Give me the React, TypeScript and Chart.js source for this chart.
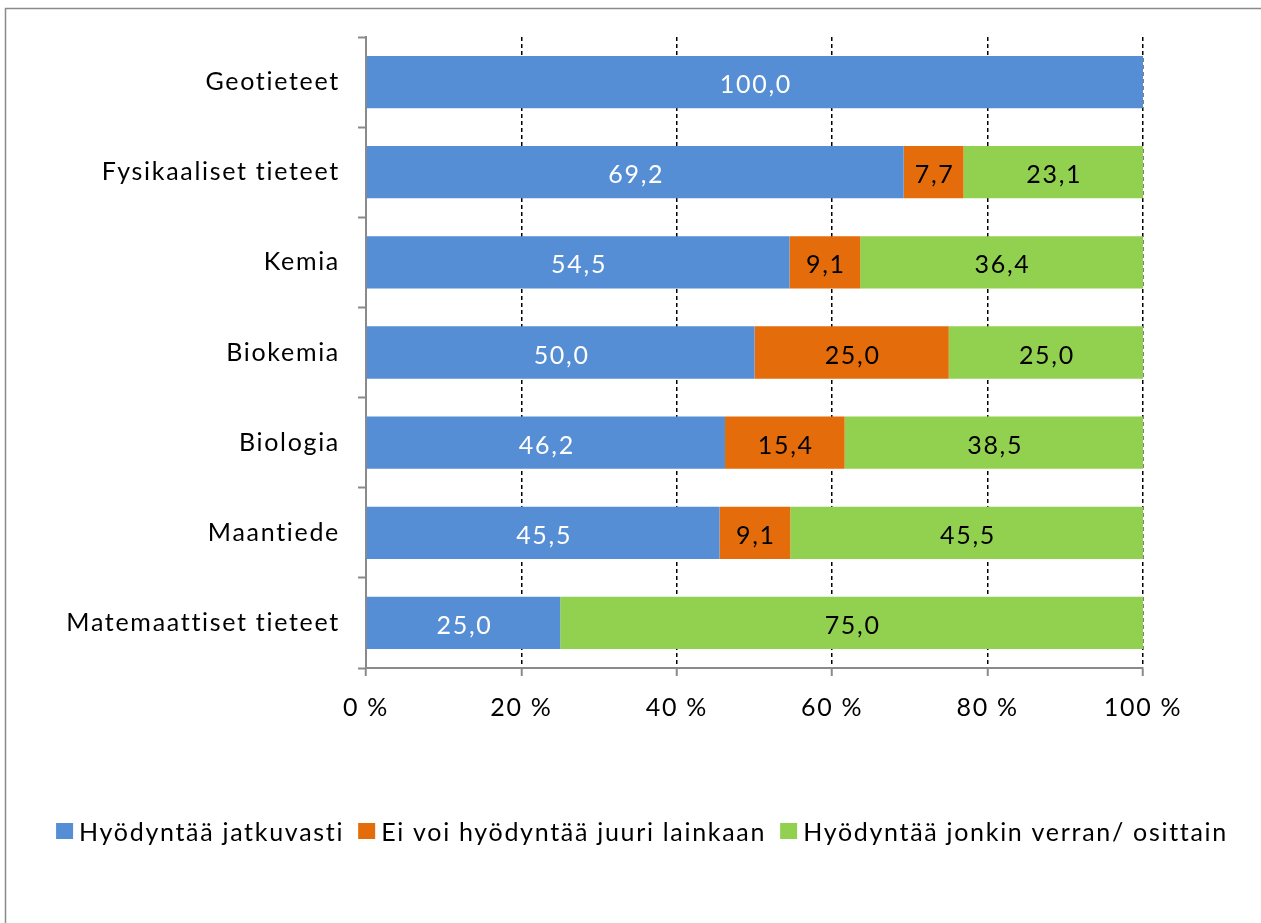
import React, { useEffect, useRef } from "react";
import { Chart, registerables } from "chart.js";

Chart.register(...registerables);

const categories = [
  "Geotieteet",
  "Fysikaaliset tieteet",
  "Kemia",
  "Biokemia",
  "Biologia",
  "Maantiede",
  "Matemaattiset tieteet",
];
const seriesNames = [
  "Hyödyntää jatkuvasti",
  "Ei voi hyödyntää juuri lainkaan",
  "Hyödyntää jonkin verran/ osittain",
];
const jatkuvasti = [100.0, 69.2, 54.5, 50.0, 46.2, 45.5, 25.0];
const eiLainkaan = [0, 7.7, 9.1, 25.0, 15.4, 9.1, 0];
const osittain = [0, 23.1, 36.4, 25.0, 38.5, 45.5, 75.0];
const seriesColors = ["#558ED5", "#E46C0A", "#92D050"];
const labelColors = ["#FFFFFF", "#000000", "#000000"];
const xTicks = [0, 20, 40, 60, 80, 100];

const FONT = "Lato, 'Open Sans', sans-serif";
const FS = 25;
const LS = "1.7px";

const fmt = (v: number) => v.toFixed(1).replace(".", ",");

const frame = {
  id: "frame",
  beforeDraw(chart: any) {
    const ctx = chart.ctx;
    ctx.save();
    ctx.fillStyle = "#fff";
    ctx.fillRect(0, 0, chart.width, chart.height);
    ctx.strokeStyle = "#8a8a8a";
    ctx.lineWidth = 1.5;
    ctx.beginPath();
    ctx.moveTo(5.5, chart.height + 5);
    ctx.lineTo(5.5, 8.5);
    ctx.lineTo(chart.width + 5, 8.5);
    ctx.stroke();
    ctx.restore();
    (ctx as any).letterSpacing = LS;
  },
};

const valueLabels = {
  id: "valueLabels",
  afterDatasetsDraw(chart: any) {
    const ctx = chart.ctx;
    ctx.save();
    (ctx as any).letterSpacing = LS;
    ctx.font = `${FS}px ${FONT}`;
    ctx.textAlign = "center";
    ctx.textBaseline = "middle";
    chart.data.datasets.forEach((ds: any, di: number) => {
      const meta = chart.getDatasetMeta(di);
      meta.data.forEach((el: any, i: number) => {
        const v = ds.data[i];
        if (!v) return;
        ctx.fillStyle = labelColors[di];
        ctx.fillText(fmt(v), (el.x + el.base) / 2 + 1, el.y + 3);
      });
    });
    ctx.restore();
  },
};

const customLegend = {
  id: "customLegend",
  afterDraw(chart: any) {
    const ctx = chart.ctx;
    ctx.save();
    (ctx as any).letterSpacing = LS;
    ctx.font = `${FS}px ${FONT}`;
    ctx.textBaseline = "middle";
    ctx.textAlign = "left";
    const boxW = 17;
    const boxH = 16;
    const gapBoxText = 6;
    const gapItems = 14;
    const widths = seriesNames.map((n) => ctx.measureText(n).width);
    const total =
      widths.reduce((a, b) => a + b, 0) +
      seriesNames.length * (boxW + gapBoxText) +
      (seriesNames.length - 1) * gapItems;
    let x = 642 - total / 2;
    const cy = 832;
    seriesNames.forEach((n, i) => {
      ctx.fillStyle = seriesColors[i];
      ctx.fillRect(x, cy - boxH / 2 - 1, boxW, boxH);
      x += boxW + gapBoxText;
      ctx.fillStyle = "#000";
      ctx.fillText(n, x, cy + 1);
      x += widths[i] + gapItems;
    });
    ctx.restore();
  },
};

export default function App() {
  const ref = useRef<HTMLCanvasElement>(null);
  useEffect(() => {
    if (!ref.current) return;
    const chart = new Chart(ref.current, {
      type: "bar",
      data: {
        labels: categories,
        datasets: [jatkuvasti, eiLainkaan, osittain].map((d, i) => ({
          label: seriesNames[i],
          data: d,
          backgroundColor: seriesColors[i],
          borderWidth: 0,
          barPercentage: 0.58,
          categoryPercentage: 1,
        })),
      },
      options: {
        indexAxis: "y",
        animation: false,
        responsive: false,
        maintainAspectRatio: false,
        layout: { padding: { left: 0, top: 37, right: 118, bottom: 0 } },
        plugins: {
          legend: { display: false },
          tooltip: { enabled: false },
        },
        scales: {
          x: {
            stacked: true,
            min: 0,
            max: 100,
            afterFit: (s: any) => {
              s.height = 255;
            },
            afterBuildTicks: (s: any) => {
              s.ticks = xTicks.map((v) => ({ value: v }));
            },
            ticks: {
              callback: (v: any) => `${v} %`,
              color: "#000",
              font: { family: FONT, size: FS },
              padding: 17,
              maxRotation: 0,
            },
            grid: {
              color: (c: any) => (c.index === 0 ? "rgba(0,0,0,0)" : "#000"),
              lineWidth: 1.5,
              tickColor: "#8a8a8a",
              tickLength: 8,
              tickWidth: 2,
            },
            border: { color: "#8a8a8a", width: 2, dash: [4, 3] },
          },
          y: {
            stacked: true,
            afterFit: (s: any) => {
              s.width = 366;
            },
            ticks: {
              color: "#000",
              font: { family: FONT, size: FS },
              padding: 18,
            },
            grid: {
              drawOnChartArea: false,
              tickColor: "#8a8a8a",
              tickLength: 8,
              tickWidth: 2,
              offset: true,
            },
            border: { color: "#8a8a8a", width: 2 },
          },
        },
      },
      plugins: [frame, valueLabels, customLegend],
    });
    return () => chart.destroy();
  }, []);
  return (
    <canvas
      ref={ref}
      width={1261}
      height={923}
      style={{ position: "fixed", left: 0, top: 0, width: 1261, height: 923 }}
    />
  );
}
